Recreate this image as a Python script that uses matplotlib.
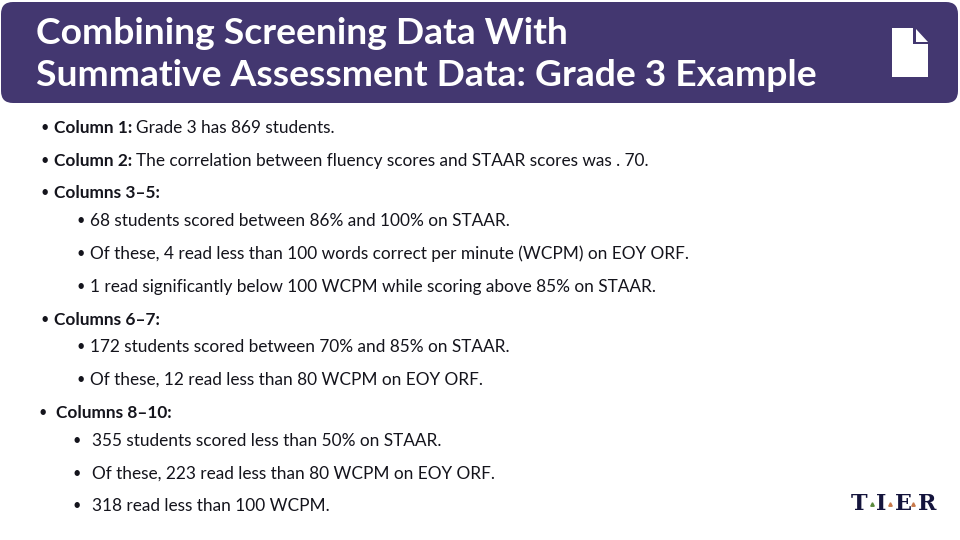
import matplotlib
matplotlib.use("Agg")
import matplotlib.pyplot as plt
from matplotlib.patches import FancyBboxPatch, Polygon

plt.rcParams["font.family"] = ["Lato", "DejaVu Sans"]

PURPLE = "#433770"
INK = "#14141c"
BODY_SIZE = 12.4

title_lines = ["Combining Screening Data With",
               "Summative Assessment Data: Grade 3 Example"]

# x bullet, x text, y, bold part, normal part
rows = [
    (40, 54, 128, "Column 1:", "Grade 3 has 869 students."),
    (40, 54, 161, "Column 2:", "The correlation between fluency scores and STAAR scores was . 70."),
    (40, 54, 193, "Columns 3–5:", ""),
    (76, 90, 221, "", "68 students scored between 86% and 100% on STAAR."),
    (76, 90, 254, "", "Of these, 4 read less than 100 words correct per minute (WCPM) on EOY ORF."),
    (76, 90, 287, "", "1 read significantly below 100 WCPM while scoring above 85% on STAAR."),
    (40, 54, 320, "Columns 6–7:", ""),
    (76, 90, 347, "", "172 students scored between 70% and 85% on STAAR."),
    (76, 90, 380, "", "Of these, 12 read less than 80 WCPM on EOY ORF."),
    (38, 56, 413, "Columns 8–10:", ""),
    (73, 92, 441, "", "355 students scored less than 50% on STAAR."),
    (73, 92, 474, "", "Of these, 223 read less than 80 WCPM on EOY ORF."),
    (73, 92, 506, "", "318 read less than 100 WCPM."),
]

logo_letters = ["T", "I", "E", "R"]
logo_x = [859.5, 881.5, 903.5, 927]
dot_x = [872, 890, 913]
dot_colors = ["#5a8a3c", "#c8794a", "#c8794a"]

fig = plt.figure(figsize=(9.6, 5.4), dpi=100)
ax = fig.add_axes([0, 0, 1, 1])
ax.set_xlim(0, 960)
ax.set_ylim(540, 0)
ax.axis("off")

# banner
ax.add_patch(FancyBboxPatch((1, 2), 957, 101, boxstyle="round,pad=0,rounding_size=12",
                            fc=PURPLE, ec="none"))
ax.text(36, 34, title_lines[0], color="white", fontsize=26.8, weight="bold", va="center")
ax.text(36, 76, title_lines[1], color="white", fontsize=26.8, weight="bold", va="center")

# page icon
ax.add_patch(Polygon([(892, 28), (913, 28), (913, 44), (928, 44), (928, 77), (892, 77)],
                     fc="white", ec="none"))
ax.add_patch(Polygon([(916, 29), (928, 42), (916, 42)], fc="white", ec="none"))

# bullets
fig.canvas.draw()
renderer = fig.canvas.get_renderer()
for xb, xt, y, bold, normal in rows:
    ax.text(xb, y, "•", fontsize=10.5, color=INK, va="center", ha="left")
    x = xt
    if bold:
        t = ax.text(x, y, bold, fontsize=BODY_SIZE, weight="bold", color=INK, va="center")
        x = t.get_window_extent(renderer).x1 + 4
    if normal:
        ax.text(x, y, normal, fontsize=BODY_SIZE, color=INK, va="center")

# logo
for letter, x in zip(logo_letters, logo_x):
    ax.text(x, 504, letter, family=["DejaVu Serif"], weight="bold", fontsize=16,
            color="#14143c", ha="center", va="center")
for x, c in zip(dot_x, dot_colors):
    ax.plot(x, 504, marker="^", ms=2.5, color=c, ls="none")

fig.savefig("out.png", dpi=100)
